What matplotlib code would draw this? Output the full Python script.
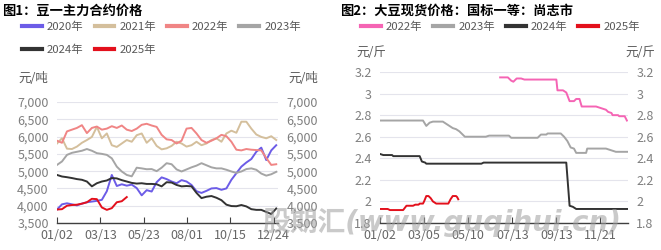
import numpy as np
import matplotlib as mpl
mpl.use("Agg")
import matplotlib.pyplot as plt
from matplotlib.lines import Line2D
from matplotlib.ticker import FuncFormatter

plt.rcParams["font.family"] = ["Noto Sans CJK SC", "DejaVu Sans"]

# ---- figure 1: soybean No.1 main contract (yuan/ton), sampled along the trading year
FUT_SAMPLES = 45
FUT_TICK_LABELS = ["01/02", "03/13", "05/23", "08/01", "10/15", "12/24"]
fut_2020 = [3890, 4040, 4070, 4040, 4010, 4060, 4100, 4120, 4140, 4170, 4420, 4890, 4570, 4620, 4580,
            4610, 4510, 4300, 4450, 4410, 4680, 4820, 4770, 4700, 4650, 4740, 4700, 4600, 4420, 4370,
            4430, 4500, 4510, 4460, 4500, 4750, 4940, 5130, 5250, 5350, 5560, 5680, 5320, 5600, 5750]
fut_2021 = [5800, 5950, 5650, 5640, 5710, 5820, 5900, 5990, 6280, 5950, 6090, 5750, 5700, 5800, 5900,
            5850, 6040, 6090, 5820, 5950, 5730, 5630, 5660, 5730, 5850, 5800, 5710, 5750, 5850, 5750,
            5800, 5900, 5950, 5850, 6090, 6170, 6110, 6430, 6430, 6230, 6060, 5990, 5950, 6010, 5900]
fut_2022 = [5880, 5820, 6150, 6200, 6250, 6330, 6100, 6250, 6290, 6200, 6230, 6300, 6250, 6320, 6200,
            6160, 6230, 6340, 6370, 6320, 6280, 6050, 5920, 5900, 5800, 5880, 6230, 6250, 6090, 5900,
            5820, 5880, 5950, 6050, 6010, 5850, 5620, 5600, 5640, 5620, 5610, 5600, 5380, 5180, 5200]
fut_2023 = [5180, 5280, 5470, 5530, 5560, 5590, 5640, 5590, 5520, 5500, 5470, 5370, 5130, 4990, 4890,
            4850, 5100, 5080, 5055, 5060, 5000, 5100, 5230, 5200, 5050, 4990, 5050, 5110, 5160, 5230,
            5170, 5110, 5080, 5080, 5040, 4990, 4950, 4990, 5060, 5080, 5040, 4930, 4870, 4910, 4980]
fut_2024 = [4890, 4845, 4825, 4800, 4770, 4750, 4700, 4560, 4650, 4700, 4730, 4800, 4790, 4740, 4700,
            4660, 4640, 4650, 4630, 4630, 4620, 4560, 4680, 4670, 4600, 4560, 4570, 4560, 4370, 4220,
            4260, 4280, 4230, 4160, 4030, 3990, 3985, 4020, 3980, 3900, 3880, 3880, 3820, 3760, 3920]
fut_2025 = [3890, 3900, 4000, 4020, 4030, 4060, 4100, 4200, 4190, 3950, 3880, 3930, 4100, 4130, 4250]

# ---- figure 2: spot price, grade-1 soybean, Shangzhi (yuan/jin), change points along the year
SPOT_TICK_LABELS = ["01/02", "03/05", "05/10", "07/13", "09/13", "11/21"]
spot_2022_x = [109, 116, 119, 121, 124, 128, 131, 160, 161, 166, 169, 172, 176, 178, 181, 183, 196, 199,
               202, 205, 207, 210, 211, 216, 217, 222, 224]
spot_2022_y = [3.15, 3.15, 3.12, 3.11, 3.14, 3.14, 3.13, 3.13, 3.03, 3.03, 3.01, 2.93, 2.93, 2.95, 2.95,
               2.88, 2.88, 2.87, 2.86, 2.85, 2.83, 2.82, 2.80, 2.80, 2.79, 2.79, 2.75]
spot_2023_x = [0, 39, 42, 45, 48, 57, 60, 63, 66, 69, 72, 75, 77, 96, 99, 117, 119, 143, 146, 151, 152,
               164, 167, 170, 173, 176, 178, 187, 188, 205, 208, 214, 225]
spot_2023_y = [2.75, 2.75, 2.70, 2.73, 2.74, 2.74, 2.72, 2.70, 2.68, 2.67, 2.65, 2.62, 2.60, 2.60, 2.61,
               2.61, 2.59, 2.59, 2.62, 2.62, 2.63, 2.63, 2.60, 2.56, 2.50, 2.49, 2.45, 2.45, 2.49, 2.49,
               2.48, 2.46, 2.46]
spot_2024_x = [0, 3, 11, 12, 36, 38, 41, 42, 92, 94, 169, 172, 175, 178, 225]
spot_2024_y = [2.44, 2.43, 2.43, 2.42, 2.42, 2.37, 2.36, 2.35, 2.35, 2.36, 2.36, 1.96, 1.95, 1.93, 1.93]
spot_2025_x = [0, 7, 9, 21, 24, 30, 32, 35, 36, 39, 40, 42, 44, 46, 48, 51, 62, 64, 66, 69, 70, 71]
spot_2025_y = [1.93, 1.93, 1.92, 1.92, 1.96, 1.96, 1.97, 1.97, 1.98, 1.98, 2.00, 2.05, 2.05, 2.03, 2.00,
               1.98, 1.98, 2.02, 2.05, 2.05, 2.04, 2.02]

TICK_GREY = "#7f7f7f"
GRID = "#e4e4ec"
AXIS = "#404040"


def style_axis(ax):
    for s in ["top", "left", "right"]:
        ax.spines[s].set_visible(False)
    ax.spines["bottom"].set_color(AXIS)
    ax.spines["bottom"].set_linewidth(1.0)
    ax.grid(axis="y", color=GRID, lw=0.8)
    ax.set_axisbelow(True)
    ax.tick_params(axis="y", length=0, labelleft=True, labelright=True, colors=TICK_GREY,
                   labelsize=9, pad=6)
    ax.tick_params(axis="x", direction="in", length=4, color=AXIS, labelcolor="#666666",
                   labelsize=9, pad=4)


def row_legend(items, x, y):
    handles = [Line2D([], [], color=c, lw=3) for _, c in items]
    fig.legend(handles, [n for n, _ in items], ncol=len(items), loc="center left",
               bbox_to_anchor=(x / 661, 1 - y / 250), frameon=False, fontsize=8.2,
               handlelength=1.75, handletextpad=0.45, columnspacing=0.95, labelcolor="#595959",
               borderaxespad=0, borderpad=0)


fig = plt.figure(figsize=(6.61, 2.5), dpi=100)

# left panel
ax1 = fig.add_axes([57 / 661, 27 / 250, 221 / 661, 121 / 250])
x_fut = np.linspace(0, 248, FUT_SAMPLES)
fut_series = [("2020年", fut_2020, "#6c5ce7"), ("2021年", fut_2021, "#d4bf9c"),
              ("2022年", fut_2022, "#f08585"), ("2023年", fut_2023, "#a5a5a5"),
              ("2024年", fut_2024, "#333333"), ("2025年", fut_2025, "#e3101c")]
for name, vals, col in fut_series:
    ax1.plot(x_fut[:len(vals)], vals, color=col, lw=1.4, label=name)
ax1.set_xlim(0, 250)
ax1.set_ylim(3500, 7000)
ax1.set_yticks(np.arange(3500, 7001, 500))
ax1.yaxis.set_major_formatter(FuncFormatter(lambda v, p: f"{int(v):,}"))
ax1.set_xticks([0, 49, 98, 147, 196, 245])
ax1.set_xticklabels(FUT_TICK_LABELS)
style_axis(ax1)

# right panel
ax2 = fig.add_axes([380 / 661, 27 / 250, 248 / 661, 151 / 250])
spot_series = [("2022年", spot_2022_x, spot_2022_y, "#f564b4"),
               ("2023年", spot_2023_x, spot_2023_y, "#a5a5a5"),
               ("2024年", spot_2024_x, spot_2024_y, "#333333"),
               ("2025年", spot_2025_x, spot_2025_y, "#e3101c")]
for name, xs, ys, col in spot_series:
    ax2.plot(xs, ys, color=col, lw=1.4, label=name)
ax2.set_xlim(0, 225)
ax2.set_ylim(1.8, 3.2)
ax2.set_yticks(np.arange(1.8, 3.21, 0.2))
ax2.yaxis.set_major_formatter(FuncFormatter(lambda v, p: f"{v:.1f}".rstrip("0").rstrip(".")))
ax2.set_xticks([0, 40, 80, 120, 160, 200])
ax2.set_xticklabels(SPOT_TICK_LABELS)
style_axis(ax2)

# titles
fig.text(2 / 661, 1 - 11 / 250, "图1：豆一主力合约价格", fontsize=9.5, fontweight="bold",
         va="center", ha="left", color="black")
fig.text(340 / 661, 1 - 11 / 250, "图2：大豆现货价格：国标一等：尚志市", fontsize=9.5,
         fontweight="bold", va="center", ha="left", color="black")

# legends, one row at a time
row_legend([(n, c) for n, _, c in fut_series[:4]], 22, 27)
row_legend([(n, c) for n, _, c in fut_series[4:]], 22, 50)
row_legend([(n, c) for n, _, _, c in spot_series], 361, 27)

# unit labels
for x, y, t in [(18, 78, "元/吨"), (288, 78, "元/吨"), (356, 52, "元/斤"), (625, 52, "元/斤")]:
    fig.text(x / 661, 1 - y / 250, t, fontsize=9, color="#595959", va="center", ha="left")

# watermark
fig.text(262 / 661, 1 - 222 / 250, "股期汇(www.guqihui.cn)", fontsize=20, fontweight="bold",
         style="italic", color="#a0a0a0", alpha=0.55, va="center", ha="left",
         family=["DejaVu Sans", "Noto Sans CJK SC"], zorder=10)

fig.savefig("out.png", dpi=100, facecolor="white")
